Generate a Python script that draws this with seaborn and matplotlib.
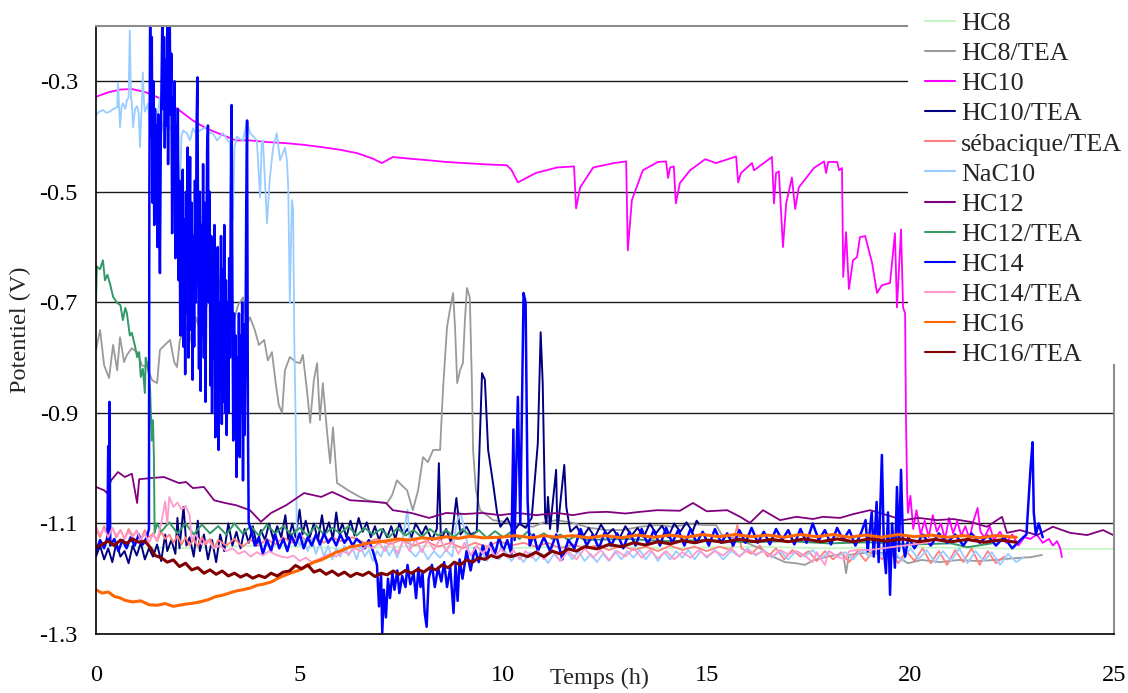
import numpy as np
import pandas as pd
import matplotlib
matplotlib.use("Agg")
import matplotlib.pyplot as plt
import seaborn as sns

# ---------------- data: (time h, potential V) ----------------
hc8 = [(0, -1.140), (2, -1.145), (4, -1.140), (6, -1.145), (8, -1.141), (10, -1.145), (12, -1.141),
       (14, -1.145), (16, -1.142), (18, -1.145), (20, -1.143), (22, -1.145), (22.7, -1.146), (25, -1.146)]

hc8_tea = [(0, -0.786), (0.10, -0.750), (0.20, -0.814), (0.32, -0.837), (0.42, -0.777), (0.52, -0.823),
           (0.59, -0.763), (0.69, -0.808), (0.76, -0.795), (0.88, -0.783), (1.01, -0.790), (1.13, -0.814),
           (1.25, -0.817), (1.38, -0.841), (1.50, -0.846), (1.57, -0.786), (1.69, -0.777), (1.82, -0.768),
           (1.92, -0.808), (1.99, -0.817), (2.06, -0.768), (2.14, -0.756), (2.26, -0.741), (2.36, -0.777),
           (2.46, -0.727), (2.55, -0.750), (2.68, -0.714), (2.82, -0.683), (2.95, -0.718), (3.07, -0.647),
           (3.17, -0.705), (3.27, -0.696), (3.39, -0.732), (3.49, -0.705), (3.61, -0.691), (3.71, -0.741),
           (3.78, -0.727), (3.90, -0.750), (4.00, -0.777), (4.13, -0.768), (4.22, -0.805), (4.32, -0.790),
           (4.42, -0.850), (4.49, -0.886), (4.57, -0.900), (4.64, -0.823), (4.76, -0.799), (4.91, -0.808),
           (5.01, -0.810), (5.08, -0.795), (5.18, -0.859), (5.26, -0.918), (5.35, -0.841), (5.43, -0.810),
           (5.50, -0.913), (5.57, -0.846), (5.67, -0.931), (5.75, -0.991), (5.82, -0.926), (5.92, -1.027),
           (6.07, -1.034), (6.19, -1.040), (6.31, -1.045), (6.48, -1.052), (6.66, -1.058), (6.90, -1.061),
           (7.15, -1.063), (7.27, -1.049), (7.39, -1.022), (7.51, -1.031), (7.64, -1.040), (7.78, -1.076),
           (7.91, -1.040), (8.03, -0.980), (8.15, -0.989), (8.28, -0.967), (8.45, -0.967), (8.52, -0.859),
           (8.62, -0.745), (8.69, -0.714), (8.77, -0.683), (8.82, -0.750), (8.87, -0.846), (8.94, -0.823),
           (9.01, -0.810), (9.06, -0.732), (9.11, -0.674), (9.18, -0.691), (9.23, -0.841), (9.26, -0.967),
           (9.33, -1.040), (9.43, -1.076), (9.60, -1.085), (9.75, -1.094), (10.04, -1.097), (10.41, -1.103),
           (10.73, -1.106), (11.03, -1.097), (11.32, -1.094), (11.71, -1.099), (12.13, -1.108), (12.55, -1.112),
           (12.94, -1.112), (13.36, -1.106), (13.78, -1.103), (14.17, -1.106), (14.59, -1.101), (14.96, -1.103),
           (15.23, -1.103), (15.37, -1.121), (15.82, -1.130), (16.30, -1.145), (16.65, -1.161), (16.92, -1.170),
           (17.19, -1.172), (17.41, -1.175), (17.63, -1.166), (18.03, -1.159), (18.35, -1.155), (18.42, -1.190),
           (18.49, -1.157), (18.79, -1.154), (19.06, -1.152), (19.40, -1.154), (19.74, -1.163), (19.94, -1.172),
           (20.28, -1.166), (20.73, -1.170), (21.19, -1.166), (21.66, -1.168), (22.08, -1.166), (22.52, -1.163),
           (22.96, -1.161), (23.23, -1.157)]

hc10 = [(0, -0.328), (0.3, -0.320), (0.6, -0.315), (0.88, -0.314), (1.23, -0.320), (1.67, -0.334),
        (2.0, -0.350), (2.38, -0.371), (2.7, -0.385), (3.0, -0.394), (3.44, -0.407), (3.78, -0.407),
        (4.2, -0.410), (4.67, -0.412), (5.1, -0.415), (5.53, -0.419), (6.0, -0.424), (6.41, -0.430),
        (6.8, -0.440), (7.02, -0.448), (7.29, -0.437), (7.7, -0.440), (8.18, -0.443), (8.6, -0.446),
        (9.04, -0.448), (9.5, -0.450), (10.09, -0.452), (10.2, -0.460), (10.36, -0.483), (10.8, -0.466),
        (11.32, -0.456), (11.74, -0.454), (11.79, -0.530), (11.89, -0.492), (12.21, -0.456), (12.72, -0.448),
        (13.02, -0.445), (13.06, -0.606), (13.16, -0.515), (13.43, -0.461), (13.8, -0.446), (14.0, -0.445),
        (14.05, -0.475), (14.1, -0.456), (14.19, -0.454), (14.24, -0.521), (14.34, -0.484), (14.59, -0.461),
        (14.96, -0.441), (15.23, -0.448), (15.72, -0.436), (15.77, -0.483), (15.84, -0.466), (16.11, -0.448),
        (16.16, -0.461), (16.6, -0.437), (16.65, -0.521), (16.7, -0.466), (16.77, -0.463), (16.87, -0.600),
        (16.95, -0.521), (17.09, -0.474), (17.17, -0.531), (17.26, -0.492), (17.63, -0.457), (17.88, -0.445),
        (17.93, -0.466), (17.98, -0.446), (18.2, -0.446), (18.25, -0.461), (18.32, -0.457), (18.35, -0.654),
        (18.42, -0.573), (18.49, -0.676), (18.59, -0.624), (18.69, -0.618), (18.76, -0.582), (18.89, -0.580),
        (19.06, -0.629), (19.18, -0.683), (19.3, -0.669), (19.5, -0.665), (19.62, -0.575), (19.67, -0.709),
        (19.77, -0.568), (19.82, -0.709), (19.87, -0.720), (19.89, -0.900), (19.92, -1.045), (19.94, -1.081),
        (20.0, -1.050), (20.07, -1.110), (20.15, -1.076), (20.25, -1.120), (20.35, -1.095), (20.45, -1.125),
        (20.55, -1.085), (20.65, -1.115), (20.75, -1.100), (20.85, -1.128), (20.95, -1.090), (21.05, -1.118),
        (21.15, -1.096), (21.25, -1.122), (21.35, -1.105), (21.45, -1.128), (21.55, -1.095), (21.65, -1.072),
        (21.72, -1.115), (21.82, -1.125), (21.95, -1.105), (22.05, -1.130), (22.2, -1.115), (22.35, -1.135),
        (22.5, -1.120), (22.65, -1.140), (22.8, -1.125), (22.95, -1.128), (23.1, -1.120), (23.25, -1.135),
        (23.4, -1.128), (23.5, -1.140), (23.6, -1.132), (23.68, -1.145), (23.72, -1.161)]

hc10_tea = [(0.0, -1.160), (0.1, -1.140), (0.2, -1.165), (0.3, -1.145), (0.4, -1.170), (0.5, -1.135),
            (0.6, -1.160), (0.7, -1.150), (0.8, -1.172), (0.9, -1.140), (1.0, -1.158), (1.1, -1.135),
            (1.2, -1.165), (1.3, -1.145), (1.4, -1.160), (1.5, -1.138), (1.6, -1.168), (1.7, -1.120),
            (1.75, -1.150), (1.85, -1.130), (1.95, -1.155), (2.0, -1.090), (2.05, -1.145), (2.15, -1.070),
            (2.22, -1.140), (2.3, -1.125), (2.4, -1.160), (2.5, -1.095), (2.55, -1.150), (2.65, -1.120),
            (2.75, -1.165), (2.85, -1.130), (2.95, -1.170), (3.05, -1.120), (3.15, -1.150), (3.25, -1.100),
            (3.35, -1.140), (3.45, -1.115), (3.55, -1.145), (3.65, -1.110), (3.75, -1.135), (3.85, -1.105),
            (3.95, -1.140), (4.05, -1.112), (4.15, -1.130), (4.25, -1.100), (4.35, -1.128), (4.45, -1.105),
            (4.55, -1.125), (4.65, -1.085), (4.72, -1.130), (4.82, -1.100), (4.9, -1.125), (5.0, -1.075),
            (5.07, -1.120), (5.15, -1.095), (5.25, -1.125), (5.35, -1.100), (5.45, -1.130), (5.55, -1.085),
            (5.62, -1.120), (5.72, -1.098), (5.82, -1.128), (5.9, -1.080), (5.97, -1.118), (6.05, -1.100),
            (6.15, -1.125), (6.25, -1.095), (6.35, -1.122), (6.45, -1.090), (6.55, -1.115), (6.65, -1.098),
            (6.75, -1.125), (6.85, -1.105), (6.95, -1.130), (7.05, -1.110), (7.15, -1.125), (7.25, -1.105),
            (7.35, -1.128), (7.45, -1.100), (7.55, -1.120), (7.65, -1.110), (7.75, -1.125), (7.85, -1.100),
            (8.0, -1.120), (8.1, -1.105), (8.25, -1.130), (8.37, -1.110), (8.42, -0.991), (8.47, -1.130),
            (8.6, -1.110), (8.72, -1.135), (8.85, -1.054), (8.95, -1.120), (9.1, -1.106), (9.2, -1.120),
            (9.35, -1.115), (9.48, -0.828), (9.55, -0.840), (9.63, -0.967), (9.75, -1.027), (9.85, -1.081),
            (9.93, -1.106), (10.1, -1.090), (10.25, -1.115), (10.4, -1.100), (10.55, -1.108), (10.7, -1.090),
            (10.85, -0.955), (10.92, -0.754), (10.97, -0.846), (11.03, -1.088), (11.06, -1.100), (11.1, -1.052),
            (11.15, -1.110), (11.3, -1.003), (11.33, -1.115), (11.5, -0.994), (11.55, -1.070), (11.65, -1.115),
            (11.8, -1.105), (11.95, -1.125), (12.1, -1.108), (12.25, -1.125), (12.4, -1.102), (12.55, -1.120),
            (12.7, -1.110), (12.85, -1.128), (13.0, -1.105), (13.15, -1.122), (13.3, -1.108), (13.45, -1.125),
            (13.6, -1.100), (13.75, -1.118), (13.9, -1.104), (14.05, -1.125), (14.2, -1.100), (14.35, -1.115),
            (14.5, -1.098), (14.65, -1.115), (14.75, -1.095), (14.8, -1.100)]

sebacique_tea = [(0.0, -1.112), (0.1, -1.125), (0.2, -1.105), (0.3, -1.120), (0.4, -1.108), (0.5, -1.125),
                 (0.6, -1.112), (0.7, -1.128), (0.8, -1.110), (0.9, -1.122), (1.0, -1.115), (1.1, -1.130),
                 (1.2, -1.112), (1.3, -1.125), (1.4, -1.118), (1.5, -1.132), (1.6, -1.115), (1.7, -1.128),
                 (1.8, -1.120), (1.9, -1.135), (2.0, -1.122), (2.1, -1.138), (2.2, -1.125), (2.3, -1.140),
                 (2.4, -1.128), (2.5, -1.142), (2.6, -1.125), (2.7, -1.138), (2.8, -1.128), (2.9, -1.145),
                 (3.0, -1.130), (3.2, -1.140), (3.4, -1.128), (3.6, -1.142), (3.8, -1.130), (4.0, -1.140),
                 (4.2, -1.128), (4.4, -1.138), (4.6, -1.125), (4.8, -1.135), (5.0, -1.122), (5.2, -1.132),
                 (5.4, -1.125), (5.6, -1.135), (5.8, -1.125), (6.0, -1.132), (6.3, -1.125), (6.6, -1.135),
                 (6.9, -1.128), (7.2, -1.138), (7.5, -1.130), (7.8, -1.140), (8.1, -1.132), (8.4, -1.142),
                 (8.7, -1.135), (9.0, -1.145), (9.3, -1.135), (9.6, -1.142), (9.9, -1.132), (10.2, -1.140),
                 (10.5, -1.135), (10.8, -1.142), (11.1, -1.135), (11.4, -1.145), (11.7, -1.138), (12.0, -1.145),
                 (12.3, -1.140), (12.6, -1.148), (12.9, -1.140), (13.2, -1.148), (13.5, -1.142), (13.8, -1.150),
                 (14.1, -1.140), (14.4, -1.148), (14.7, -1.142), (15.0, -1.150), (15.3, -1.142), (15.6, -1.148),
                 (15.75, -1.103), (15.85, -1.145), (16.1, -1.155), (16.3, -1.140), (16.5, -1.160), (16.7, -1.145),
                 (16.9, -1.165), (17.1, -1.148), (17.3, -1.160), (17.5, -1.150), (17.7, -1.168), (17.9, -1.150),
                 (18.1, -1.165), (18.3, -1.152), (18.5, -1.170), (18.7, -1.150), (18.9, -1.168), (19.1, -1.148),
                 (19.3, -1.165), (19.5, -1.150), (19.7, -1.172), (19.9, -1.150), (20.1, -1.168), (20.3, -1.145),
                 (20.5, -1.172), (20.7, -1.150), (20.9, -1.175), (21.1, -1.148), (21.3, -1.170), (21.5, -1.145),
                 (21.7, -1.175), (21.9, -1.150), (22.1, -1.172), (22.3, -1.160)]

nac10 = [(0.0, -0.361), (0.08, -0.355), (0.17, -0.352), (0.25, -0.357), (0.34, -0.355), (0.43, -0.350),
         (0.52, -0.347), (0.54, -0.304), (0.57, -0.350), (0.59, -0.383), (0.63, -0.345), (0.66, -0.340),
         (0.72, -0.350), (0.76, -0.334), (0.80, -0.330), (0.83, -0.208), (0.86, -0.330), (0.88, -0.340),
         (0.91, -0.383), (0.96, -0.350), (1.01, -0.345), (1.05, -0.360), (1.08, -0.419), (1.12, -0.350),
         (1.15, -0.284), (1.18, -0.340), (1.20, -0.355), (1.28, -0.340), (1.33, -0.400), (1.38, -0.430),
         (1.44, -0.380), (1.50, -0.371), (1.57, -0.329), (1.62, -0.389), (1.68, -0.370), (1.74, -0.371),
         (1.82, -0.385), (1.89, -0.383), (1.95, -0.400), (1.99, -0.419), (2.06, -0.492), (2.10, -0.400),
         (2.14, -0.389), (2.23, -0.394), (2.31, -0.407), (2.38, -0.385), (2.46, -0.395), (2.55, -0.389),
         (2.65, -0.385), (2.73, -0.383), (2.80, -0.394), (2.87, -0.394), (2.97, -0.407), (3.05, -0.400),
         (3.12, -0.394), (3.22, -0.405), (3.29, -0.412), (3.36, -0.551), (3.40, -0.420), (3.46, -0.400),
         (3.55, -0.405), (3.61, -0.407), (3.71, -0.371), (3.78, -0.394), (3.87, -0.400), (3.95, -0.407),
         (4.03, -0.510), (4.07, -0.410), (4.10, -0.407), (4.20, -0.557), (4.27, -0.474), (4.35, -0.420),
         (4.44, -0.394), (4.52, -0.443), (4.59, -0.430), (4.64, -0.420), (4.69, -0.443), (4.72, -0.492),
         (4.76, -0.701), (4.81, -0.515), (4.84, -0.530), (4.87, -0.768), (4.90, -0.900), (4.93, -1.120),
         (5.0, -1.140), (5.1, -1.130), (5.2, -1.150), (5.3, -1.128), (5.4, -1.155), (5.5, -1.135),
         (5.6, -1.160), (5.7, -1.140), (5.8, -1.165), (5.9, -1.145), (6.0, -1.160), (6.1, -1.140),
         (6.2, -1.158), (6.3, -1.145), (6.4, -1.165), (6.5, -1.140), (6.6, -1.160), (6.7, -1.148),
         (6.8, -1.168), (6.9, -1.150), (7.0, -1.160), (7.1, -1.140), (7.2, -1.158), (7.3, -1.145),
         (7.4, -1.162), (7.5, -1.140), (7.65, -1.075), (7.72, -1.150), (7.85, -1.160), (8.0, -1.145),
         (8.15, -1.165), (8.3, -1.150), (8.45, -1.162), (8.6, -1.148), (8.75, -1.160), (8.85, -1.100),
         (8.95, -1.080), (9.05, -1.110), (9.15, -1.150), (9.3, -1.165), (9.45, -1.150), (9.6, -1.168),
         (9.75, -1.152), (9.9, -1.165), (10.05, -1.150), (10.2, -1.168), (10.35, -1.155), (10.5, -1.170),
         (10.65, -1.152), (10.8, -1.168), (10.95, -1.155), (11.1, -1.172), (11.25, -1.155), (11.4, -1.168),
         (11.55, -1.150), (11.7, -1.165), (11.85, -1.150), (12.0, -1.168), (12.15, -1.155), (12.3, -1.170),
         (12.45, -1.155), (12.6, -1.168), (12.75, -1.150), (12.9, -1.165), (13.05, -1.150), (13.2, -1.162),
         (13.35, -1.148), (13.5, -1.165), (13.65, -1.150), (13.8, -1.168), (13.95, -1.152), (14.1, -1.165),
         (14.25, -1.150), (14.4, -1.162), (14.55, -1.148), (14.7, -1.165), (14.85, -1.150), (15.0, -1.162),
         (15.2, -1.148), (15.4, -1.165), (15.6, -1.150), (15.8, -1.160), (16.0, -1.145), (16.2, -1.158),
         (16.4, -1.148), (16.6, -1.162), (16.8, -1.150), (17.0, -1.165), (17.2, -1.150), (17.4, -1.160),
         (17.6, -1.148), (17.8, -1.165), (18.0, -1.150), (18.2, -1.160), (18.4, -1.152), (18.6, -1.165),
         (18.8, -1.148), (19.0, -1.160), (19.2, -1.150), (19.4, -1.165), (19.6, -1.150), (19.8, -1.168),
         (20.0, -1.145), (20.2, -1.165), (20.4, -1.148), (20.6, -1.170), (20.8, -1.150), (21.0, -1.168),
         (21.2, -1.145), (21.4, -1.172), (21.6, -1.150), (21.8, -1.168), (22.0, -1.152), (22.2, -1.175),
         (22.4, -1.155), (22.6, -1.170), (22.8, -1.160)]

hc12 = [(0.0, -1.034), (0.2, -1.040), (0.27, -1.045), (0.37, -1.022), (0.54, -1.007), (0.71, -1.016),
        (0.88, -1.010), (1.01, -1.063), (1.06, -1.020), (1.33, -1.018), (1.67, -1.016), (2.04, -1.027),
        (2.21, -1.025), (2.38, -1.036), (2.65, -1.034), (2.9, -1.058), (3.17, -1.063), (3.44, -1.067),
        (3.78, -1.076), (4.05, -1.097), (4.3, -1.081), (4.67, -1.067), (5.11, -1.045), (5.53, -1.052),
        (5.8, -1.043), (6.24, -1.058), (6.85, -1.061), (7.12, -1.063), (7.29, -1.076), (7.74, -1.081),
        (8.18, -1.090), (8.6, -1.081), (9.04, -1.083), (9.48, -1.081), (9.92, -1.085), (10.36, -1.081),
        (10.8, -1.085), (11.32, -1.081), (11.71, -1.085), (12.1, -1.080), (12.55, -1.079), (13.0, -1.082),
        (13.36, -1.079), (13.78, -1.076), (14.34, -1.077), (14.66, -1.063), (15.0, -1.078), (15.5, -1.076),
        (15.82, -1.088), (16.06, -1.099), (16.38, -1.076), (16.8, -1.094), (17.2, -1.088), (17.61, -1.092),
        (17.85, -1.088), (18.27, -1.090), (18.6, -1.083), (19.01, -1.076), (19.43, -1.085), (19.82, -1.094),
        (20.2, -1.090), (20.65, -1.094), (21.05, -1.092), (21.46, -1.097), (21.88, -1.106), (22.25, -1.088),
        (22.37, -1.117), (22.69, -1.112), (23.11, -1.121), (23.5, -1.106), (23.92, -1.117), (24.34, -1.121),
        (24.73, -1.112), (24.98, -1.121)]

hc12_tea = [(0.0, -0.700), (0.02, -0.635), (0.1, -0.640), (0.17, -0.624), (0.22, -0.660), (0.28, -0.650),
            (0.34, -0.665), (0.42, -0.690), (0.52, -0.701), (0.6, -0.705), (0.66, -0.732), (0.72, -0.710),
            (0.76, -0.720), (0.83, -0.760), (0.88, -0.755), (0.96, -0.780), (1.01, -0.799), (1.06, -0.790),
            (1.1, -0.835), (1.15, -0.820), (1.2, -0.864), (1.22, -0.800), (1.26, -0.812), (1.3, -0.830),
            (1.33, -0.860), (1.35, -0.908), (1.37, -0.950), (1.40, -0.913), (1.42, -0.973), (1.44, -1.117),
            (1.5, -1.100), (1.6, -1.115), (1.8, -1.098), (2.0, -1.118), (2.2, -1.100), (2.4, -1.120),
            (2.6, -1.102), (2.8, -1.118), (3.0, -1.105), (3.2, -1.120), (3.4, -1.100), (3.6, -1.118),
            (3.8, -1.105), (4.0, -1.122), (4.2, -1.102), (4.4, -1.118), (4.6, -1.105), (4.8, -1.120),
            (5.0, -1.108), (5.2, -1.122), (5.4, -1.104), (5.6, -1.120), (5.8, -1.108), (6.0, -1.118),
            (6.2, -1.105), (6.4, -1.122), (6.6, -1.108), (6.8, -1.120), (7.0, -1.110), (7.2, -1.125),
            (7.4, -1.108), (7.6, -1.122), (7.8, -1.112), (8.0, -1.125), (8.2, -1.110), (8.4, -1.122),
            (8.6, -1.112), (8.8, -1.125), (9.0, -1.110), (9.2, -1.124), (9.4, -1.112), (9.6, -1.126),
            (9.8, -1.114), (10.0, -1.125), (10.2, -1.115), (10.4, -1.128), (10.6, -1.115), (10.8, -1.126),
            (11.0, -1.118), (11.2, -1.128), (11.4, -1.120), (11.6, -1.130), (11.8, -1.122), (12.0, -1.130),
            (13.0, -1.128), (14.0, -1.132), (15.0, -1.130), (16.0, -1.134), (17.0, -1.132), (18.0, -1.136),
            (19.0, -1.134), (20.0, -1.138), (21.0, -1.136), (21.4, -1.143), (22.0, -1.136)]

hc14 = [(0.0, -1.150), (0.1, -1.130), (0.2, -1.145), (0.28, -1.125), (0.3, -0.960), (0.32, -1.130),
        (0.33, -0.880), (0.35, -1.140), (0.45, -1.128), (0.55, -1.150), (0.65, -1.130), (0.75, -1.145),
        (0.85, -1.125), (0.95, -1.140), (1.05, -1.120), (1.15, -1.138), (1.25, -1.125), (1.30, -1.110),
        (1.31, -0.50), (1.33, -0.18), (1.35, -0.40), (1.37, -0.22), (1.39, -0.52), (1.41, -0.30),
        (1.43, -0.56), (1.45, -0.35), (1.47, -0.47), (1.49, -0.38), (1.51, -0.60), (1.53, -0.36),
        (1.55, -0.50), (1.57, -0.647), (1.59, -0.42), (1.61, -0.30), (1.63, -0.18), (1.65, -0.35),
        (1.67, -0.22), (1.69, -0.42), (1.71, -0.26), (1.73, -0.38), (1.75, -0.20), (1.77, -0.45),
        (1.79, -0.28), (1.81, -0.18), (1.83, -0.36), (1.85, -0.25), (1.87, -0.575), (1.89, -0.33),
        (1.91, -0.42), (1.93, -0.30), (1.95, -0.62), (1.97, -0.38), (1.99, -0.55), (2.01, -0.35),
        (2.03, -0.66), (2.05, -0.48), (2.07, -0.76), (2.09, -0.52), (2.11, -0.70), (2.13, -0.46),
        (2.15, -0.78), (2.17, -0.55), (2.19, -0.83), (2.21, -0.50), (2.23, -0.72), (2.25, -0.42),
        (2.27, -0.80), (2.29, -0.60), (2.31, -0.437), (2.33, -0.75), (2.35, -0.52), (2.37, -0.84),
        (2.39, -0.58), (2.41, -0.78), (2.43, -0.48), (2.45, -0.70), (2.47, -0.38), (2.49, -0.293),
        (2.51, -0.62), (2.53, -0.82), (2.55, -0.50), (2.57, -0.86), (2.59, -0.56), (2.61, -0.76),
        (2.63, -0.45), (2.65, -0.80), (2.67, -0.52), (2.69, -0.88), (2.71, -0.60), (2.73, -0.42),
        (2.75, -0.38), (2.77, -0.70), (2.79, -0.50), (2.81, -0.85), (2.83, -0.58), (2.85, -0.90),
        (2.87, -0.62), (2.89, -0.80), (2.91, -0.56), (2.93, -0.944), (2.95, -0.66), (2.97, -0.84),
        (2.99, -0.60), (3.01, -0.967), (3.03, -0.70), (3.05, -0.86), (3.07, -0.58), (3.09, -0.92),
        (3.11, -0.64), (3.13, -0.88), (3.15, -0.56), (3.17, -0.90), (3.19, -0.66), (3.21, -0.94),
        (3.23, -0.70), (3.25, -0.90), (3.27, -0.62), (3.29, -0.80), (3.31, -0.50), (3.33, -0.343),
        (3.35, -0.68), (3.37, -0.95), (3.39, -0.72), (3.41, -0.88), (3.43, -0.76), (3.45, -1.016),
        (3.47, -0.80), (3.49, -0.94), (3.51, -0.72), (3.53, -0.98), (3.55, -0.76), (3.57, -0.90),
        (3.59, -0.70), (3.61, -1.022), (3.63, -0.74), (3.65, -0.94), (3.67, -0.80), (3.69, -0.52),
        (3.71, -0.371), (3.73, -0.90), (3.75, -1.099), (3.80, -1.110),
        (3.9, -1.140), (4.0, -1.125), (4.1, -1.155),
        (4.2, -1.130), (4.3, -1.150), (4.4, -1.120), (4.5, -1.145), (4.6, -1.128), (4.7, -1.150),
        (4.8, -1.122), (4.9, -1.140), (5.0, -1.118), (5.1, -1.145), (5.2, -1.125), (5.3, -1.140),
        (5.4, -1.120), (5.5, -1.138), (5.6, -1.118), (5.7, -1.135), (5.8, -1.125), (5.9, -1.140),
        (6.0, -1.120), (6.1, -1.135), (6.2, -1.125), (6.3, -1.140), (6.4, -1.128), (6.5, -1.135),
        (6.6, -1.145), (6.7, -1.130), (6.8, -1.150), (6.9, -1.175), (6.95, -1.250), (7.0, -1.190),
        (7.03, -1.298), (7.07, -1.220), (7.12, -1.270), (7.17, -1.200), (7.22, -1.235), (7.28, -1.190),
        (7.33, -1.220), (7.4, -1.185), (7.45, -1.226), (7.52, -1.195), (7.6, -1.215), (7.65, -1.175),
        (7.72, -1.210), (7.8, -1.190), (7.86, -1.235), (7.92, -1.180), (7.97, -1.215), (8.02, -1.190),
        (8.07, -1.260), (8.12, -1.287), (8.17, -1.200), (8.25, -1.175), (8.32, -1.215), (8.4, -1.180),
        (8.48, -1.205), (8.55, -1.170), (8.62, -1.215), (8.7, -1.180), (8.78, -1.262), (8.83, -1.175),
        (8.88, -1.240), (8.93, -1.165), (9.0, -1.200), (9.1, -1.150), (9.2, -1.185), (9.3, -1.145),
        (9.4, -1.170), (9.5, -1.140), (9.6, -1.160), (9.7, -1.135), (9.8, -1.155), (9.9, -1.125),
        (10.0, -1.150), (10.1, -1.130), (10.2, -1.155), (10.25, -0.930), (10.28, -1.130), (10.36, -0.871),
        (10.42, -1.100), (10.5, -0.683), (10.55, -0.700), (10.6, -1.060), (10.65, -1.140), (10.75, -1.120),
        (10.85, -1.150), (11.0, -1.125), (11.15, -1.150), (11.3, -1.120), (11.45, -1.165), (11.6, -1.130),
        (11.75, -1.145), (11.9, -1.110), (12.05, -1.140), (12.2, -1.120), (12.35, -1.145), (12.5, -1.115),
        (12.65, -1.140), (12.8, -1.118), (12.95, -1.145), (13.1, -1.115), (13.25, -1.140), (13.4, -1.110),
        (13.55, -1.138), (13.7, -1.112), (13.85, -1.140), (14.0, -1.108), (14.15, -1.135), (14.3, -1.112),
        (14.45, -1.140), (14.6, -1.110), (14.75, -1.135), (14.9, -1.115), (15.05, -1.140), (15.2, -1.110),
        (15.35, -1.135), (15.5, -1.118), (15.65, -1.140), (15.8, -1.112), (15.95, -1.135), (16.1, -1.108),
        (16.25, -1.135), (16.4, -1.115), (16.55, -1.138), (16.7, -1.110), (16.85, -1.130), (17.0, -1.112),
        (17.15, -1.138), (17.3, -1.110), (17.45, -1.135), (17.6, -1.100), (17.75, -1.130), (17.9, -1.112),
        (18.05, -1.138), (18.2, -1.108), (18.35, -1.130), (18.5, -1.112), (18.65, -1.140), (18.8, -1.115),
        (18.9, -1.094), (18.95, -1.150), (19.05, -1.080), (19.1, -1.160), (19.17, -1.061), (19.22, -1.170),
        (19.3, -0.976), (19.35, -1.150), (19.4, -1.190), (19.45, -1.080), (19.5, -1.229), (19.55, -1.100),
        (19.62, -1.180), (19.67, -1.034), (19.72, -1.150), (19.77, -1.003), (19.82, -1.140), (19.87, -1.160),
        (19.95, -1.125), (20.1, -1.145), (20.3, -1.120), (20.5, -1.140), (20.7, -1.118), (20.9, -1.135),
        (21.1, -1.120), (21.3, -1.140), (21.5, -1.118), (21.7, -1.135), (21.9, -1.122), (22.1, -1.140),
        (22.3, -1.125), (22.5, -1.145), (22.7, -1.130), (22.85, -1.120), (22.95, -1.000), (23.0, -0.953),
        (23.03, -1.080), (23.08, -1.120), (23.15, -1.100), (23.25, -1.125)]

hc14_tea = [(0.0, -1.105), (0.1, -1.120), (0.2, -1.110), (0.3, -1.125), (0.4, -1.108), (0.5, -1.122),
            (0.6, -1.112), (0.7, -1.128), (0.8, -1.115), (0.9, -1.125), (1.0, -1.112), (1.1, -1.130),
            (1.2, -1.118), (1.3, -1.135), (1.4, -1.120), (1.5, -1.130), (1.6, -1.100), (1.7, -1.060),
            (1.75, -1.100), (1.8, -1.052), (1.9, -1.070), (2.0, -1.062), (2.1, -1.075), (2.2, -1.068),
            (2.3, -1.085), (2.35, -1.130), (2.45, -1.120), (2.6, -1.138), (2.75, -1.130), (2.9, -1.145),
            (3.05, -1.140), (3.2, -1.150), (3.35, -1.145), (3.5, -1.155), (3.65, -1.150), (3.8, -1.160),
            (3.95, -1.152), (4.1, -1.158), (4.25, -1.150), (4.4, -1.156), (4.55, -1.160), (4.7, -1.162),
            (4.85, -1.158), (5.0, -1.168), (5.15, -1.162), (5.3, -1.170), (5.45, -1.165), (5.6, -1.160),
            (5.75, -1.155), (5.9, -1.160), (6.05, -1.150), (6.2, -1.155), (6.35, -1.145), (6.5, -1.150),
            (6.65, -1.140), (6.8, -1.145), (6.95, -1.135), (7.1, -1.150), (7.25, -1.130), (7.4, -1.155),
            (7.55, -1.130), (7.7, -1.150), (7.85, -1.128), (8.0, -1.152), (8.15, -1.130), (8.3, -1.148),
            (8.45, -1.128), (8.6, -1.150), (8.75, -1.132), (8.9, -1.155), (9.05, -1.135), (9.2, -1.158),
            (9.35, -1.140), (9.5, -1.155), (9.65, -1.140), (9.8, -1.160), (9.95, -1.145), (10.1, -1.162),
            (10.25, -1.148), (10.4, -1.165), (10.55, -1.150), (10.7, -1.162), (10.85, -1.150), (11.0, -1.165),
            (11.2, -1.148), (11.4, -1.168), (11.6, -1.150), (11.8, -1.165), (12.0, -1.145), (12.2, -1.162),
            (12.4, -1.148), (12.6, -1.166), (12.8, -1.150), (13.0, -1.160), (13.2, -1.145), (13.4, -1.162),
            (13.6, -1.148), (13.8, -1.163), (14.0, -1.150), (14.2, -1.165), (14.4, -1.152), (14.6, -1.162),
            (14.8, -1.148), (15.0, -1.160), (15.2, -1.150), (15.4, -1.158), (15.6, -1.145), (15.8, -1.160),
            (16.0, -1.148), (16.2, -1.156), (16.4, -1.150), (16.6, -1.160), (16.8, -1.148), (17.0, -1.156),
            (17.2, -1.150), (17.4, -1.158), (17.6, -1.170), (17.7, -1.152), (17.9, -1.175), (18.0, -1.150),
            (18.2, -1.160), (18.4, -1.165), (18.5, -1.150), (18.7, -1.148), (19.0, -1.148), (20.48, -1.134)]

hc16 = [(0.0, -1.220), (0.15, -1.226), (0.3, -1.224), (0.45, -1.232), (0.6, -1.235), (0.71, -1.239),
        (0.9, -1.242), (1.1, -1.240), (1.3, -1.247), (1.5, -1.248), (1.7, -1.245), (1.9, -1.250),
        (2.04, -1.248), (2.2, -1.246), (2.4, -1.244), (2.55, -1.242), (2.75, -1.238), (2.95, -1.232),
        (3.1, -1.230), (3.27, -1.226), (3.45, -1.222), (3.6, -1.220), (3.78, -1.217), (3.95, -1.212),
        (4.1, -1.210), (4.3, -1.206), (4.5, -1.198), (4.7, -1.192), (4.85, -1.188), (5.01, -1.184),
        (5.2, -1.176), (5.35, -1.170), (5.53, -1.166), (5.7, -1.160), (5.9, -1.152), (6.07, -1.148),
        (6.25, -1.142), (6.45, -1.140), (6.65, -1.136), (6.85, -1.134), (7.1, -1.132), (7.4, -1.128),
        (7.7, -1.130), (8.0, -1.126), (8.3, -1.128), (8.6, -1.124), (8.9, -1.127), (9.2, -1.123),
        (9.5, -1.126), (9.92, -1.125), (10.3, -1.122), (10.7, -1.126), (11.0, -1.122), (11.32, -1.125),
        (11.7, -1.122), (12.1, -1.126), (12.5, -1.122), (12.9, -1.126), (13.3, -1.121), (13.7, -1.125),
        (14.1, -1.121), (14.5, -1.125), (14.9, -1.120), (15.3, -1.124), (15.7, -1.120), (16.1, -1.124),
        (16.5, -1.121), (16.9, -1.125), (17.3, -1.120), (17.7, -1.124), (18.1, -1.120), (18.5, -1.125),
        (18.9, -1.121), (19.3, -1.125), (19.7, -1.120), (20.1, -1.124), (20.5, -1.121), (20.9, -1.125),
        (21.3, -1.122), (21.7, -1.126), (22.1, -1.122), (22.6, -1.125)]

hc16_tea = [(0.0, -1.143), (0.15, -1.138), (0.3, -1.132), (0.45, -1.140), (0.6, -1.130), (0.75, -1.136),
            (0.9, -1.128), (1.05, -1.134), (1.2, -1.132), (1.35, -1.145), (1.45, -1.158), (1.6, -1.162),
            (1.75, -1.170), (1.9, -1.166), (2.05, -1.178), (2.2, -1.172), (2.35, -1.184), (2.5, -1.180),
            (2.65, -1.190), (2.8, -1.184), (2.95, -1.192), (3.1, -1.186), (3.25, -1.195), (3.4, -1.190),
            (3.55, -1.197), (3.7, -1.192), (3.85, -1.199), (4.0, -1.194), (4.15, -1.198), (4.3, -1.190),
            (4.45, -1.195), (4.6, -1.188), (4.75, -1.186), (4.9, -1.176), (5.05, -1.182), (5.2, -1.175),
            (5.35, -1.188), (5.5, -1.184), (5.65, -1.192), (5.8, -1.186), (5.95, -1.194), (6.1, -1.188),
            (6.25, -1.196), (6.4, -1.190), (6.55, -1.194), (6.7, -1.188), (6.85, -1.196), (7.0, -1.190),
            (7.15, -1.193), (7.3, -1.186), (7.45, -1.192), (7.6, -1.185), (7.75, -1.190), (7.9, -1.183),
            (8.05, -1.188), (8.2, -1.180), (8.35, -1.184), (8.5, -1.175), (8.65, -1.180), (8.8, -1.170),
            (8.95, -1.175), (9.1, -1.166), (9.25, -1.170), (9.4, -1.162), (9.55, -1.165), (9.7, -1.158),
            (9.85, -1.162), (10.0, -1.156), (10.2, -1.160), (10.4, -1.155), (10.6, -1.160), (10.8, -1.152),
            (11.0, -1.160), (11.2, -1.150), (11.4, -1.155), (11.6, -1.146), (11.8, -1.150), (12.0, -1.142),
            (12.3, -1.146), (12.6, -1.138), (12.9, -1.142), (13.2, -1.135), (13.5, -1.139), (13.8, -1.133),
            (14.1, -1.137), (14.4, -1.131), (14.7, -1.135), (15.0, -1.130), (15.4, -1.134), (15.8, -1.129),
            (16.2, -1.133), (16.6, -1.129), (17.0, -1.133), (17.4, -1.128), (17.8, -1.133), (18.2, -1.128),
            (18.6, -1.133), (19.0, -1.128), (19.4, -1.132), (19.8, -1.128), (20.2, -1.133), (20.6, -1.129),
            (21.0, -1.133), (21.4, -1.129), (21.8, -1.134), (22.2, -1.130), (22.6, -1.134)]

series_names = ["HC8", "HC8/TEA", "HC10", "HC10/TEA", "sébacique/TEA", "NaC10",
                "HC12", "HC12/TEA", "HC14", "HC14/TEA", "HC16", "HC16/TEA"]
series_data = [hc8, hc8_tea, hc10, hc10_tea, sebacique_tea, nac10,
               hc12, hc12_tea, hc14, hc14_tea, hc16, hc16_tea]
series_colors = ["#c4f5c4", "#9a9a9a", "#ff00ff", "#000080", "#ff8080", "#99ccff",
                 "#800080", "#339966", "#0000ff", "#ff99cc", "#ff6600", "#800000"]
series_widths = [1.3, 1.3, 1.3, 1.4, 1.3, 1.3, 1.3, 1.4, 1.8, 1.3, 2.2, 2.2]

x_ticks = [0, 5, 10, 15, 20, 25]
y_ticks = [-1.3, -1.1, -0.9, -0.7, -0.5, -0.3]
y_tick_labels = ["-1.3", "-1.1", "-0.9", "-0.7", "-0.5", "-0.3"]

# ---------------- plotting ----------------
sns.set_style("white")
plt.rcParams["font.family"] = ["Liberation Serif", "DejaVu Serif"]
plt.rcParams["axes.unicode_minus"] = False

W, H = 1128, 693
fig = plt.figure(figsize=(W / 100, H / 100), dpi=100)
ax = fig.add_axes([96 / W, (H - 634) / H, (1114 - 96) / W, (634 - 26) / H])

X_LEG = 907  # pixel where the legend area begins (grid lines stop there)
t_leg = (X_LEG - 96) / (1114 - 96) * 25
v_leg_bottom = -0.3 - (365 - 81) / 553.0

# horizontal grid lines (the upper ones stop at the legend area)
for yv in y_ticks[1:]:
    xmax = 1.0 if yv <= -0.9 else t_leg / 25
    ax.axhline(yv, xmin=0, xmax=xmax, color="#1a1a1a", linewidth=1.0, zorder=0.5)

for name, pts, col, lw in zip(series_names, series_data, series_colors, series_widths):
    df = pd.DataFrame(pts, columns=["t", "v"])
    sns.lineplot(data=df, x="t", y="v", ax=ax, color=col, linewidth=lw, label=name,
                 estimator=None, sort=False)

ax.set_xlim(0, 25)
ax.set_ylim(-1.3, -0.2)
ax.set_xticks(x_ticks)
ax.set_xticklabels([str(v) for v in x_ticks])
ax.set_yticks(y_ticks)
ax.set_yticklabels(y_tick_labels)
ax.tick_params(axis="both", direction="out", length=6, width=1, color="black",
               labelsize=17.5, labelcolor="black")
ax.tick_params(axis="x", pad=16)
ax.tick_params(axis="y", pad=7)
ax.grid(False)
for side in ["left", "bottom"]:
    ax.spines[side].set_color("black")
    ax.spines[side].set_linewidth(1.2)
for side in ["top", "right"]:
    ax.spines[side].set_color("#8c8c8c")
    ax.spines[side].set_linewidth(1.5)
ax.spines["top"].set_bounds(0, t_leg)
ax.spines["right"].set_bounds(-1.3, v_leg_bottom)

ax.set_xlabel("Temps (h)", fontsize=17.5)
ax.xaxis.label.set_va("center")
ax.xaxis.set_label_coords((599 - 96) / 1018, (634 - 678) / 608)
ax.set_ylabel("Potentiel (V)", fontsize=17.5)
ax.yaxis.label.set_va("center")
ax.yaxis.set_label_coords((20 - 96) / 1018, 0.5)

leg = ax.legend(loc="upper left", bbox_to_anchor=(925 / W, 1 - 12 / H), bbox_transform=fig.transFigure,
                fontsize=18.8, frameon=False, borderpad=0.0, labelspacing=0.26, handlelength=1.15,
                handletextpad=0.22, borderaxespad=0.0)
for line in leg.get_lines():
    line.set_linewidth(1.5)

fig.savefig("out.png", dpi=100)
